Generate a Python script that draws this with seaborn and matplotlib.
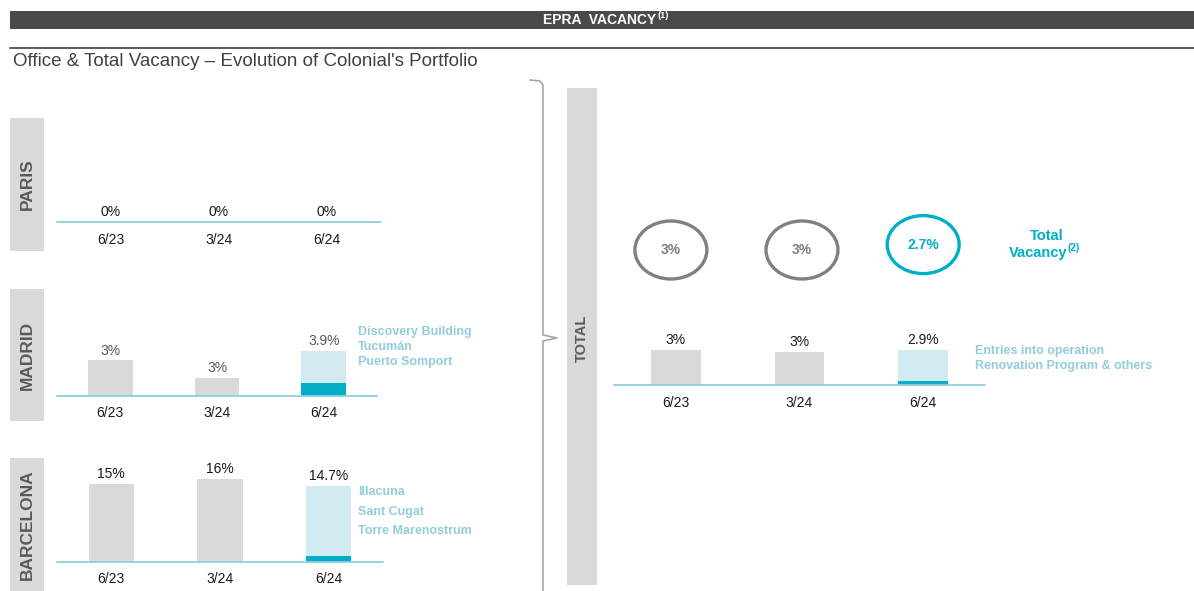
import matplotlib
matplotlib.use("Agg")
import matplotlib.pyplot as plt
from matplotlib.patches import Rectangle, Ellipse
from matplotlib.lines import Line2D
import seaborn as sns
import pandas as pd

# ---------------- data ----------------
periods = ["6/23", "3/24", "6/24"]

paris_vals = [0.0, 0.0, 0.0]
paris_labels = ["0%", "0%", "0%"]

madrid_vals = [3.1, 1.6, 3.9]
madrid_dark = [0.0, 0.0, 1.1]
madrid_labels = ["3%", "3%", "3.9%"]
madrid_notes = ["Discovery Building", "Tucumán", "Puerto Somport"]

bcn_vals = [15.0, 16.0, 14.7]
bcn_dark = [0.0, 0.0, 1.2]
bcn_labels = ["15%", "16%", "14.7%"]
bcn_notes = ["Illacuna", "Sant Cugat", "Torre Marenostrum"]

total_vals = [2.9, 2.75, 2.9]
total_dark = [0.0, 0.0, 0.35]
total_labels = ["3%", "3%", "2.9%"]
total_notes = ["Entries into operation", "Renovation Program & others"]

circle_labels = ["3%", "3%", "2.7%"]

# ---------------- style ----------------
sns.set_theme(style="white")
plt.rcParams["font.family"] = ["Liberation Sans", "DejaVu Sans"]

W, H = 1194, 591
GREY = "#d9d9d9"
LBLUE = "#d2eaf1"
TEAL = "#00aec7"
BASE = "#92cddc"
NOTE = "#92cddc"
DARKTXT = "#595959"

fig = plt.figure(figsize=(W / 100, H / 100), dpi=100)


def fx(x):
    return x / W


def fy(y):
    return 1 - y / H


def px_axes(x0, y0, x1, y1):
    return fig.add_axes([x0 / W, 1 - y1 / H, (x1 - x0) / W, (y1 - y0) / H])


def frect(x0, y0, x1, y1, color):
    fig.add_artist(Rectangle((fx(x0), fy(y1)), (x1 - x0) / W, (y1 - y0) / H,
                             transform=fig.transFigure, facecolor=color,
                             edgecolor="none", zorder=0))


# header
frect(10, 11, 1194, 29, "#4a4a4a")
fig.text(fx(600), fy(20.5), "EPRA  VACANCY", color="white", fontsize=10,
         fontweight="bold", ha="center", va="center")
fig.text(fx(657), fy(16), "(1)", color="white", fontsize=6.5,
         fontweight="bold", ha="left", va="center")
fig.add_artist(Line2D([fx(10), fx(1194)], [fy(48), fy(48)], color="#404040",
                      lw=1.2, transform=fig.transFigure))
fig.text(fx(13), fy(62), "Office & Total Vacancy \u2013 Evolution of Colonial's Portfolio",
         fontsize=13.5, color="#404040", ha="left", va="center")

# side labels
for (y0, y1, name) in [(118, 251, "PARIS"), (289, 421, "MADRID"), (458, 591, "BARCELONA")]:
    frect(10, y0, 44, y1, GREY)
    fig.text(fx(27), fy((y0 + y1) / 2), name, rotation=90, fontsize=12.5,
             fontweight="bold", color=DARKTXT, ha="center", va="center")
frect(567, 88, 597, 585, GREY)
fig.text(fx(582), fy(338), "TOTAL", rotation=90, fontsize=10.5,
         fontweight="bold", color=DARKTXT, ha="center", va="center")

# brace
bx = [530, 540, 543, 543, 557, 543, 543]
by = [80, 81, 85, 335, 338, 341, 591]
fig.add_artist(Line2D([fx(v) for v in bx], [fy(v) for v in by], color="#a6a6a6",
                      lw=1.2, transform=fig.transFigure))


def panel(box, vals, dark, labels, ymax, colors, label_color, width=0.42, pad=7):
    ax = px_axes(*box)
    df = pd.DataFrame({"period": periods, "value": vals})
    sns.barplot(data=df, x="period", y="value", hue="period", order=periods,
                hue_order=periods, palette=colors, width=width, linewidth=0,
                saturation=1, legend=False, ax=ax)
    if dark is not None:
        dd = pd.DataFrame({"period": periods, "value": dark})
        sns.barplot(data=dd, x="period", y="value", order=periods, color=TEAL,
                    width=width, linewidth=0, saturation=1, ax=ax)
    ax.set_xlim(-0.5, 2.5)
    ax.set_ylim(0, ymax)
    ax.axhline(0, color=BASE, lw=1.3, zorder=5, clip_on=False)
    ax.set_xlabel("")
    ax.set_ylabel("")
    ax.set_yticks([])
    for s in ax.spines.values():
        s.set_visible(False)
    ax.tick_params(axis="x", length=0, pad=pad, labelsize=10, labelcolor="#1a1a1a")
    ax.patch.set_alpha(0)
    for i, (v, t) in enumerate(zip(vals, labels)):
        ax.annotate(t, (i, v), xytext=(0, 2), textcoords="offset points",
                    ha="center", va="bottom", fontsize=10, color=label_color)
    return ax


bar_colors = [GREY, GREY, LBLUE]

# Paris
panel((57, 150, 381, 222), paris_vals, None, paris_labels, 1.0,
      [GREY, GREY, TEAL], "#1a1a1a", pad=8)
# Madrid
panel((57, 300, 377, 396), madrid_vals, madrid_dark, madrid_labels, 96 / 11.5,
      bar_colors, DARKTXT, pad=7)
for k, t in enumerate(madrid_notes):
    fig.text(fx(358), fy(332 + 15 * k), t, fontsize=9, fontweight="bold",
             color=NOTE, ha="left", va="center")
# Barcelona
panel((57, 460, 383, 562), bcn_vals, bcn_dark, bcn_labels, 102 / 5.2,
      bar_colors, "#1a1a1a", pad=7)
for k, t in enumerate(bcn_notes):
    fig.text(fx(358), fy(492 + 19.5 * k), t, fontsize=9, fontweight="bold",
             color=NOTE, ha="left", va="center")
# Total
panel((614, 320, 985, 385), total_vals, total_dark, total_labels, 65 / 12.0,
      bar_colors, "#1a1a1a", width=0.40, pad=8)
for k, t in enumerate(total_notes):
    fig.text(fx(975), fy(351 + 15 * k), t, fontsize=9, fontweight="bold",
             color=NOTE, ha="left", va="center")

# circles (total vacancy)
axc = px_axes(614, 205, 985, 295)
axc.set_xlim(-0.5, 2.5)
axc.set_ylim(0, 1)
axc.axis("off")
circ_colors = ["#808080", "#808080", TEAL]
circ_y = [0.5, 0.5, 0.56]
for i, (t, c, cy) in enumerate(zip(circle_labels, circ_colors, circ_y)):
    cx = [-0.04, 1.02, 2.0][i]
    axc.add_patch(Ellipse((cx, cy), 72 / 123.7, 58 / 90,
                          facecolor="none", edgecolor=c, lw=2.4))
    axc.text(cx, cy, t, ha="center", va="center",
             fontsize=10, fontweight="bold", color=c)

fig.text(fx(1047), fy(236), "Total", fontsize=10.5, fontweight="bold",
         color=TEAL, ha="center", va="center")
fig.text(fx(1038), fy(253), "Vacancy", fontsize=10.5, fontweight="bold",
         color=TEAL, ha="center", va="center")
fig.text(fx(1067), fy(248), "(2)", fontsize=7, fontweight="bold",
         color=TEAL, ha="left", va="center")

fig.savefig("out.png", dpi=100)
